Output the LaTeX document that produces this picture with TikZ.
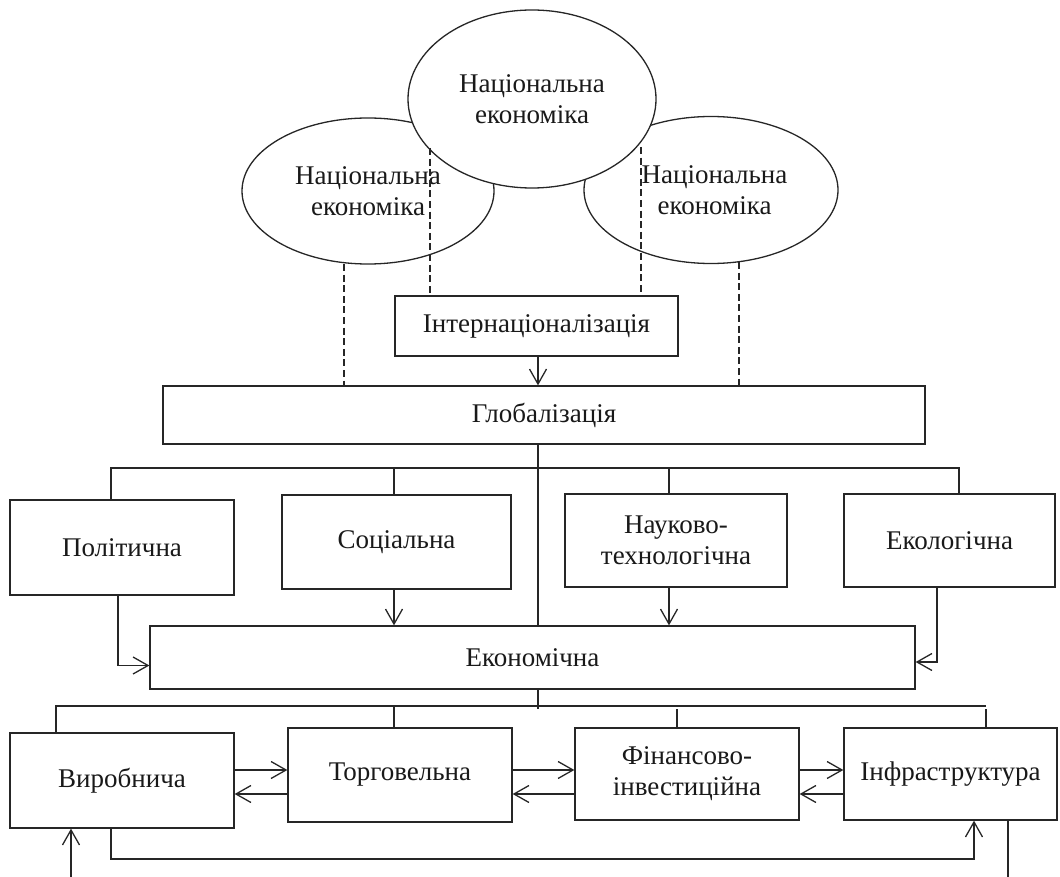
\documentclass[tikz,border=0pt]{standalone}
\usepackage{fontspec}
\setmainfont{Liberation Serif}
\usetikzlibrary{arrows.meta,shapes.geometric}
\begin{document}
\begin{tikzpicture}[x=0.5pt,y=-0.5pt, line width=0.65pt, draw=black!85,
  every node/.style={font=\fontsize{13.5}{15.5}\selectfont, text=black!90},
  box/.style={draw=black!85, fill=white, inner sep=0pt, align=center},
  oval/.style={draw=black!85, ellipse, fill=white, inner sep=0pt, align=center},
  arr/.style={-{Straight Barb[length=7.5pt,width=8.5pt]}},
  dsh/.style={dash pattern=on 3.5pt off 1.8pt}]
\useasboundingbox (0,0) rectangle (1060,877);

% ellipses
\node[oval, minimum width=126pt, minimum height=73pt] (el) at (368,191) {Національна\\економіка};
\node[oval, minimum width=127pt, minimum height=73.5pt] (er) at (711,190) {\hspace*{3.5pt}Національна\\\hspace*{3.5pt}економіка};
\node[oval, minimum width=124pt, minimum height=89pt] (et) at (532,99) {Національна\\економіка};

% boxes
\node[box, minimum width=141.5pt, minimum height=30pt] (intern) at (536.5,326) {Інтернаціоналізація};
\node[box, minimum width=381pt, minimum height=29pt] (glob) at (544,415) {Глобалізація};
\node[box, minimum width=112pt, minimum height=47.5pt] (polit) at (122,547.5) {Політична};
\node[box, minimum width=114.5pt, minimum height=47pt] (social) at (396.5,542) {Соціальна};
\node[box, minimum width=111pt, minimum height=46.5pt] (nauk) at (676,540.5) {Науково-\\технологічна};
\node[box, minimum width=105.5pt, minimum height=46.5pt] (ekol) at (949.5,540.5) {Екологічна};
\node[box, minimum width=382.5pt, minimum height=31.5pt] (econ) at (532.5,657.5) {Економічна};
\node[box, minimum width=112pt, minimum height=47.5pt] (vyrob) at (122,780.5) {Виробнича};
\node[box, minimum width=112pt, minimum height=47pt] (torg) at (400,775) {Торговельна};
\node[box, minimum width=112pt, minimum height=46pt] (fin) at (687,774) {Фінансово-\\інвестиційна};
\node[box, minimum width=106.5pt, minimum height=46pt] (infr) at (950.5,774) {Інфраструктура};

% dashed links
\coordinate (d1) at (430,148);
\coordinate (d2) at (641,147);
\coordinate (d3) at (344,264);
\coordinate (d4) at (739,262);
\draw[dsh] (d1) -- (d1 |- intern.north);
\draw[dsh] (d2) -- (d2 |- intern.north);
\draw[dsh] (d3) -- (d3 |- glob.north);
\draw[dsh] (d4) -- (d4 |- glob.north);

\draw[arr] ([xshift=0.75pt]intern.south) -- ([xshift=0.75pt]intern.south |- glob.north);

% upper bus
\coordinate (b1L) at (111,468);
\coordinate (b1R) at (959,468);
\coordinate (cx) at (538,0);
\draw (polit.north -| b1L) -- (b1L) -- (b1R) -- (ekol.north -| b1R);
\draw ([xshift=-1.25pt]social.north |- b1L) -- ([xshift=-1.25pt]social.north);
\draw ([xshift=-3.5pt]nauk.north |- b1L) -- ([xshift=-3.5pt]nauk.north);
\draw (cx |- glob.south) -- (cx |- econ.north);

% arrows into economic
\draw[arr] ([xshift=-1.25pt]social.south) -- ([xshift=-1.25pt]social.south |- econ.north);
\draw[arr] ([xshift=-3.5pt]nauk.south) -- ([xshift=-3.5pt]nauk.south |- econ.north);
\draw[arr] ([xshift=-2pt]polit.south) |- ([yshift=-4pt]econ.west);
\draw[arr] ([xshift=-6.25pt]ekol.south) |- ([yshift=-2.25pt]econ.east);

% lower bus
\coordinate (b2L) at (56,706);
\coordinate (b2R) at (986,706);
\coordinate (b2e) at (538,709);
\draw (cx |- econ.south) -- (b2e);
\draw (vyrob.north -| b2L) -- (b2L) -- (b2R);
\draw ([xshift=-3pt]torg.north) -- ++(0,-20);
\draw ([xshift=-5pt]fin.north) -- ++(0,-18);
\draw ([xshift=17.75pt]infr.north) -- ++(0,-18);

% horizontal arrows
\coordinate (ya) at (0,770);
\coordinate (yb) at (0,794);
\draw[arr] (vyrob.east |- ya) -- (torg.west |- ya);
\draw[arr] (torg.west |- yb) -- (vyrob.east |- yb);
\draw[arr] (torg.east |- ya) -- (fin.west |- ya);
\draw[arr] (fin.west |- yb) -- (torg.east |- yb);
\draw[arr] (fin.east |- ya) -- (infr.west |- ya);
\draw[arr] (infr.west |- yb) -- (fin.east |- yb);

% bottom loop
\coordinate (yl) at (0,859);
\draw[arr] ([xshift=-5.5pt]vyrob.south) -- ([xshift=-5.5pt]vyrob.south |- yl) -| ([xshift=11.75pt]infr.south);
\coordinate (inl) at (71,877);
\draw[arr] (inl) -- (inl |- vyrob.south);
\coordinate (outl) at (1008,877);
\draw (outl |- infr.south) -- (outl);
\end{tikzpicture}
\end{document}
